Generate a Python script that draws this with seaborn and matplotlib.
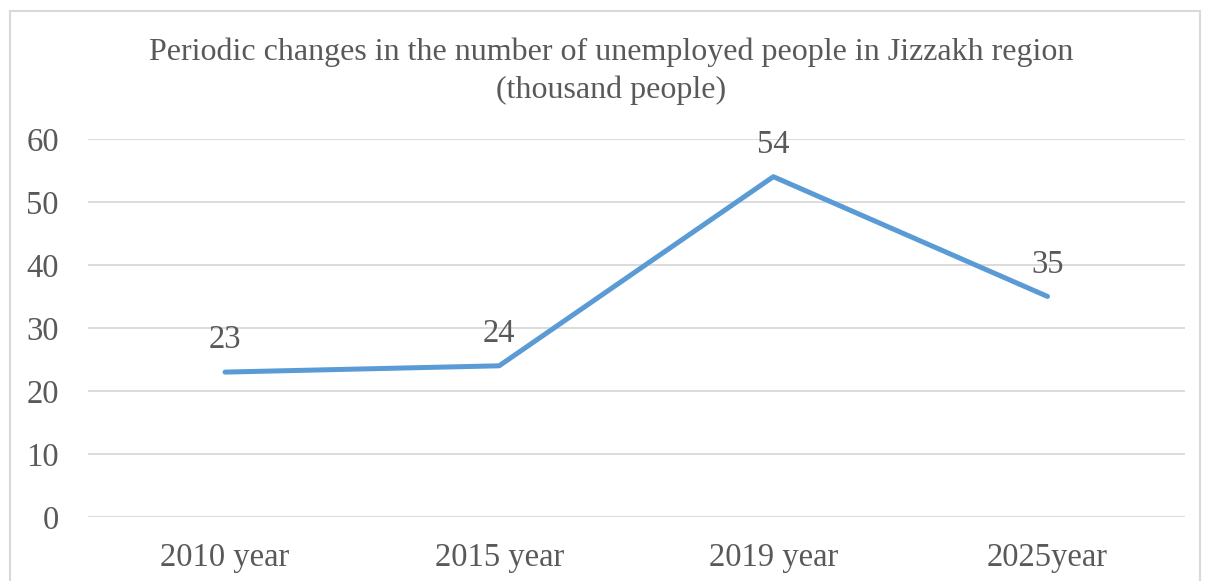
import matplotlib
matplotlib.use("Agg")
import matplotlib.pyplot as plt
import seaborn as sns
import pandas as pd
from matplotlib.patches import Rectangle

# data
years = ["2010 year", "2015 year", "2019 year", "2025year"]
unemployed = [23, 24, 54, 35]
y_ticks = [0, 10, 20, 30, 40, 50, 60]

title = "Periodic changes in the number of unemployed people in Jizzakh region\n(thousand people)"

sns.set_theme(style="white")
plt.rcParams['font.family'] = ['Liberation Serif', 'DejaVu Serif']

text_color = "#595959"
grid_color = "#D9D9D9"
line_color = "#5B9BD5"

df = pd.DataFrame({"year": years, "value": unemployed})

fig = plt.figure(figsize=(12.1, 5.81), dpi=100)
ax = fig.add_axes([0.0727, 0.110, 0.9063, 0.651])

sns.lineplot(data=df, x="year", y="value", sort=False, color=line_color,
             linewidth=3.6, ax=ax, solid_capstyle="round")

ax.set_xlim(-0.5, len(years) - 0.5)
ax.set_ylim(0, 60)
ax.set_yticks(y_ticks)
ax.yaxis.grid(True, color=grid_color, linewidth=1.3)
ax.set_axisbelow(True)
for s in ax.spines.values():
    s.set_visible(False)
ax.tick_params(axis="both", length=0, labelsize=23.5, colors=text_color)
ax.tick_params(axis="y", pad=21)
ax.tick_params(axis="x", pad=18)
ax.set_xlabel("")
ax.set_ylabel("")

# data labels above points
for i, v in enumerate(unemployed):
    ax.annotate(str(v), (i, v), xytext=(0, 12), textcoords="offset points",
                ha="center", va="bottom", fontsize=23.5, color=text_color)

fig.text(0.505, 0.877, title, ha="center", va="center", fontsize=23,
         color=text_color, linespacing=1.4)

# chart border
fig.patches.append(Rectangle((10 / 1210, -0.05), 1190 / 1210, 1.05 - 11 / 581,
                             transform=fig.transFigure, fill=False,
                             edgecolor=grid_color, linewidth=1.5))

fig.savefig("out.png", dpi=100)
